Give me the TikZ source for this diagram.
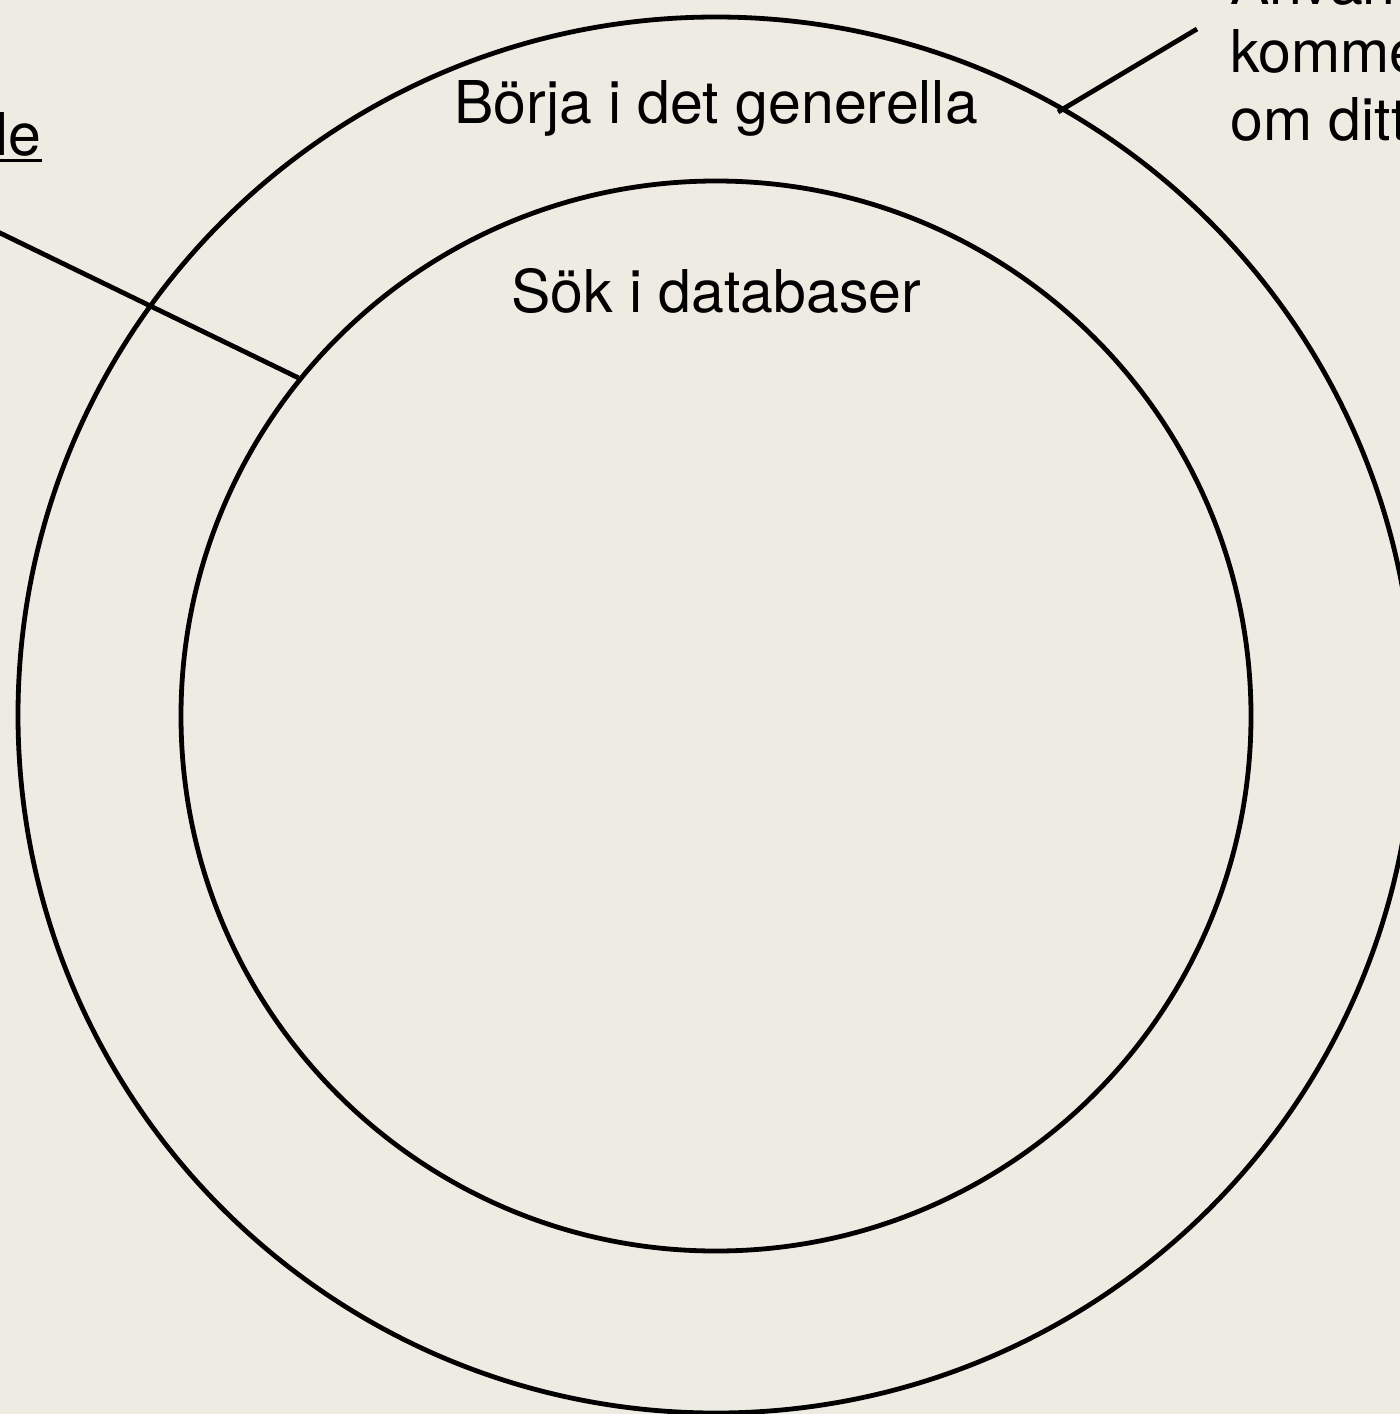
\documentclass[tikz,border=0pt]{standalone}
\usepackage{fontspec}
\setmainfont{TeX Gyre Heros}
\definecolor{bg}{RGB}{238,236,226}
\begin{document}
\begin{tikzpicture}[x=0.5pt,y=-0.5pt,
  ring/.style={draw=black,line width=2.4pt,circle,inner sep=0pt,fill=none},
  conn/.style={draw=black,line width=2.4pt},
  lbl/.style={inner sep=0pt,anchor=base,font=\fontsize{29.5pt}{34pt}\selectfont},
  lblw/.style={lbl,anchor=base west},
  lble/.style={lbl,anchor=base east}]
\fill[bg] (0,0) rectangle (1400,1414);
\useasboundingbox (0,0) rectangle (1400,1414);
\clip (0,0) rectangle (1400,1414);
\node[ring,minimum size=698pt] (outer) at (716,715) {};
\node[ring,minimum size=535pt] (inner) at (716,716) {};
\node[lbl] (general) at (716,123) {Börja i det generella};
\node[lbl] (db) at (716,312) {Sök i databaser};
\node[lblw] (r1) at (1230,4) {Använd};
\node[lblw] (r2) at (1230,72) {kommentarer};
\node[lblw] (r3) at (1230,140) {om ditt ämne};
\node[lble] (left) at (42,155) {Google};
\draw[line width=1.5pt] ([yshift=-2.5pt]left.base west) -- ([yshift=-2.5pt]left.base east);
\coordinate (rtEnd) at (1197,29);
\coordinate (rtStart) at (1058,112);
\draw[conn] (rtStart) -- (rtEnd);
\coordinate (lfEnd) at (-2,232);
\draw[conn] (lfEnd) -- (inner.141.3);
\end{tikzpicture}
\end{document}
